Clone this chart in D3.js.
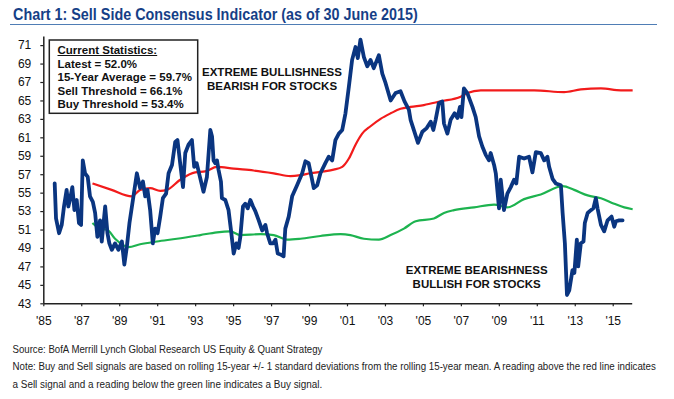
<!DOCTYPE html>
<html>
<head>
<meta charset="utf-8">
<script src="https://cdn.jsdelivr.net/npm/d3@7"></script>
<style>
  html, body { margin: 0; padding: 0; background: #fff; }
  svg { display: block; }
</style>
</head>
<body>
<div id="chart"></div>
<script>
var consensusYears = [1985.60,1985.67,1985.83,1985.97,1986.09,1986.23,1986.32,1986.41,1986.53,1986.64,1986.76,1986.88,1986.99,
  1987.08,1987.20,1987.34,1987.46,1987.61,1987.73,1987.85,1987.99,1988.08,1988.26,1988.38,1988.48,1988.61,1988.78,1988.96,
  1989.14,1989.27,1989.40,1989.54,1989.75,1989.93,1990.10,1990.25,1990.37,1990.49,1990.63,1990.77,1990.89,1991.02,1991.16,
  1991.30,1991.47,1991.60,1991.78,1991.95,1992.07,1992.21,1992.36,1992.48,1992.65,1992.83,1992.95,1993.08,1993.23,1993.44,
  1993.62,1993.80,1993.89,1993.97,1994.06,1994.15,1994.23,1994.36,1994.41,1994.59,1994.76,1994.89,1995.03,1995.17,1995.29,
  1995.38,1995.52,1995.64,1995.77,1995.91,1996.05,1996.17,1996.35,1996.53,1996.70,1996.79,1996.96,1997.11,1997.23,1997.35,
  1997.49,1997.66,1997.75,1997.93,1998.11,1998.37,1998.64,1998.81,1998.98,1999.13,1999.25,1999.43,1999.60,1999.86,2000.04,
  2000.22,2000.39,2000.57,2000.75,2000.92,2001.10,2001.27,2001.45,2001.57,2001.71,2001.89,2002.07,2002.24,2002.41,2002.68,
  2002.86,2003.03,2003.30,2003.56,2003.82,2004.03,2004.26,2004.35,2004.52,2004.74,2004.97,2005.20,2005.41,2005.55,2005.67,
  2005.84,2006.02,2006.11,2006.29,2006.46,2006.67,2006.82,2006.95,2007.03,2007.16,2007.34,2007.61,2007.78,2007.96,2008.13,
  2008.31,2008.48,2008.57,2008.75,2008.84,2009.01,2009.10,2009.27,2009.45,2009.63,2009.80,2009.92,2010.07,2010.33,2010.59,
  2010.77,2010.95,2011.21,2011.39,2011.56,2011.65,2011.83,2012.00,2012.27,2012.36,2012.48,2012.59,2012.71,2012.88,2012.98,
  2013.11,2013.18,2013.32,2013.46,2013.53,2013.68,2013.85,2013.98,2014.11,2014.20,2014.38,2014.55,2014.73,2014.94,2015.08,
  2015.17,2015.34,2015.52];
var consensusValues = [56.0,52.2,50.6,51.5,53.5,55.3,53.5,54.3,55.6,53.1,54.2,51.7,51.5,
  58.5,57.1,56.7,54.6,54.0,52.8,50.2,52.0,49.7,53.5,50.6,49.5,48.8,49.5,48.8,
  49.7,47.2,49.1,51.7,54.6,57.1,55.5,56.2,54.6,55.3,53.1,49.5,51.1,50.6,52.4,
  54.4,54.9,57.1,58.0,60.5,60.7,58.2,55.6,59.3,60.2,60.7,57.8,58.2,56.9,55.1,
  56.7,61.8,61.1,58.5,58.2,58.5,57.5,56.2,54.4,54.2,53.1,50.9,48.4,49.5,49.0,
  50.2,53.5,53.8,53.3,54.2,53.5,53.0,52.0,50.9,51.5,50.6,49.5,49.5,49.9,48.4,
  48.3,48.1,51.1,52.4,54.6,55.8,57.1,58.4,58.2,56.7,55.5,55.8,57.1,58.2,58.9,
  58.5,60.7,61.4,61.8,63.6,66.5,69.4,70.8,69.6,71.6,69.7,68.7,69.4,68.5,69.9,
  67.9,66.9,65.0,65.8,66.0,64.9,64.0,62.9,61.8,60.4,61.6,62.0,62.7,61.8,62.9,
  64.7,64.9,62.5,61.4,62.9,63.6,63.1,64.3,63.2,66.3,65.8,64.3,63.2,61.1,60.0,
  59.1,58.5,59.3,58.0,57.1,53.3,56.4,53.1,54.9,55.6,56.4,56.0,58.9,58.7,58.9,
  57.2,59.4,59.3,58.5,58.9,57.8,56.5,56.0,55.8,52.8,49.5,43.9,44.4,46.6,46.3,
  49.9,47.0,49.5,49.7,51.7,52.8,53.1,53.3,54.4,53.3,51.5,50.8,52.0,52.4,51.3,
  51.9,52.0,52.0];

// Sell threshold (red)
var sellYears = [1987.59,1988.60,1989.66,1990.10,1990.63,1991.16,1991.51,1992.21,1993.00,1993.53,1994.15,1995.03,1996.08,
  1997.14,1998.02,1998.55,1999.07,1999.78,2000.30,2000.75,2001.10,2001.45,2001.80,2002.24,2002.77,2003.30,2003.82,2004.35,
  2005.05,2005.93,2006.99,2007.34,2008.05,2009.10,2010.86,2012.44,2013.32,2014.38,2015.43,2016.05];
var sellValues = [56.0,55.3,54.6,55.3,55.5,55.2,55.3,56.4,57.2,57.3,57.8,57.6,57.4,
  57.1,56.8,56.9,57.1,57.3,57.5,57.8,58.7,60.2,61.4,62.2,63.0,63.6,64.1,64.3,
  64.5,64.9,65.4,65.8,66.1,66.1,66.1,65.9,66.2,66.3,66.1,66.1];

// Buy threshold (green)
var buyYears = [1987.59,1987.99,1988.35,1988.78,1989.49,1990.10,1990.98,1992.04,1993.27,1994.15,1994.85,1995.38,1996.44,
  1997.14,1997.84,1998.55,1999.60,2000.66,2001.18,2001.89,2002.68,2003.30,2004.00,2004.62,2005.58,2006.11,2006.64,2007.69,
  2008.75,2009.45,2010.33,2011.21,2012.36,2012.97,2013.68,2014.38,2015.08,2015.61,2016.05];
var buyValues = [51.7,51.1,51.0,50.0,49.1,49.4,49.7,50.0,50.4,50.7,50.8,50.4,50.5,
  50.4,49.9,50.0,50.3,50.5,50.4,50.0,49.9,50.4,51.1,51.9,52.2,52.8,53.1,53.4,
  53.7,53.4,54.3,54.8,55.7,55.3,54.7,54.4,53.8,53.4,53.2];

var yTicks = [43,45,47,49,51,53,55,57,59,61,63,65,67,69,71];
var xTickYears = [1985,1987,1989,1991,1993,1995,1997,1999,2001,2003,2005,2007,2009,2011,2013,2015];
var xTickLabels = ["'85","'87","'89","'91","'93","'95","'97","'99","'01","'03","'05","'07","'09","'11","'13","'15"];

var statLines = ["Current Statistics:","Latest = 52.0%","15-Year Average = 59.7%","Sell Threshold = 66.1%","Buy Threshold = 53.4%"];
var footLines = ["Source: BofA Merrill Lynch Global Research US Equity & Quant Strategy",
  "Note: Buy and Sell signals are based on rolling 15-year +/- 1 standard deviations from the rolling 15-year mean. A reading above the red line indicates",
  "a Sell signal and a reading below the green line indicates a Buy signal."];

var W = 674, H = 399;
var sans = "'Liberation Sans', Arial, sans-serif";
var narrow = "'Liberation Sans Narrow', 'Arial Narrow', 'Liberation Sans', sans-serif";

var svg = d3.select("#chart").append("svg")
  .attr("width", W)
  .attr("height", H);
svg.append("rect").attr("width", W).attr("height", H).attr("fill", "#fff");

// the narrow face is not installed, so squeeze a text horizontally to the reference width
function squeeze(sel, x0, y0, target){
  var w = sel.node().getComputedTextLength();
  var k = Math.min(1, target / w);
  sel.attr("x", 0).attr("y", 0)
    .attr("transform", "translate(" + x0 + "," + y0 + ") scale(" + k + ",1)");
}

//title
var title = svg.append("text")
  .text("Chart 1: Sell Side Consensus Indicator (as of 30 June 2015)")
  .attr("fill", "#163f87")
  .style("font-family", narrow)
  .style("font-weight", "bold")
  .style("font-size", "16.5px");
squeeze(title, 13, 20, 405);
svg.append("line")
  .attr("x1", 10).attr("x2", 657)
  .attr("y1", 24.5).attr("y2", 24.5)
  .attr("stroke", "#4f7db5")
  .attr("stroke-width", 1);

//scales
var x = d3.scaleLinear().domain([1985, 2016]).range([43.3, 631.7]);
var y = d3.scaleLinear().domain([43, 72]).range([303.3, 35.9]);

//axes
var yAxis = svg.append("g")
  .attr("transform", "translate(43.3,0)")
  .call(d3.axisLeft(y).tickValues(yTicks).tickSize(3).tickSizeOuter(0).tickFormat(function(d){ return d; }));
var xAxis = svg.append("g")
  .attr("transform", "translate(0,303.3)")
  .call(d3.axisBottom(x).tickValues(xTickYears).tickSize(3).tickSizeOuter(0)
    .tickFormat(function(d, i){ return xTickLabels[i]; }));
[yAxis, xAxis].forEach(function(a){
  a.select(".domain").attr("stroke", "#222").attr("stroke-width", 1.5);
  a.selectAll(".tick line").attr("stroke", "#222").attr("stroke-width", 1.2);
  a.selectAll("text")
    .attr("fill", "#111")
    .style("font-family", sans)
    .style("font-size", "12px");
});
yAxis.selectAll("text").attr("x", -12);
xAxis.selectAll("text").attr("y", 13);

//lines
function series(xs, vs){
  return xs.map(function(d, i){ return [d, vs[i]]; });
}
var smooth = d3.line()
  .x(function(d){ return x(d[0]); })
  .y(function(d){ return y(d[1]); })
  .curve(d3.curveMonotoneX);
var jagged = d3.line()
  .x(function(d){ return x(d[0]); })
  .y(function(d){ return y(d[1]); });

svg.append("path")
  .attr("d", smooth(series(buyYears, buyValues)))
  .attr("fill", "none")
  .attr("stroke", "#1db34f")
  .attr("stroke-width", 2.2);
svg.append("path")
  .attr("d", smooth(series(sellYears, sellValues)))
  .attr("fill", "none")
  .attr("stroke", "#f21b1b")
  .attr("stroke-width", 2.2);
svg.append("path")
  .attr("d", jagged(series(consensusYears, consensusValues)))
  .attr("fill", "none")
  .attr("stroke", "#0a3580")
  .attr("stroke-width", 3.8)
  .attr("stroke-linejoin", "round")
  .attr("stroke-linecap", "round");

//stats box
svg.append("rect")
  .attr("x", 49.3).attr("y", 40)
  .attr("width", 148.4).attr("height", 73.3)
  .attr("fill", "#fff")
  .attr("stroke", "#222")
  .attr("stroke-width", 1.5);
var statBase = [53.5, 67.8, 81.2, 94.6, 108];
statLines.forEach(function(t, i){
  var tx = svg.append("text")
    .text(t)
    .attr("x", 57.5)
    .attr("y", statBase[i])
    .attr("fill", "#111")
    .style("font-family", sans)
    .style("font-weight", "bold")
    .style("font-size", "11.5px");
  if(i == 0){
    var len = tx.node().getComputedTextLength();
    svg.append("line")
      .attr("x1", 57.5).attr("x2", 57.5 + len)
      .attr("y1", 55.5).attr("y2", 55.5)
      .attr("stroke", "#111")
      .attr("stroke-width", 1);
  }
});

//annotations
var notes = [
  {t: "EXTREME BULLISHNESS", x: 272, y: 76},
  {t: "BEARISH FOR STOCKS", x: 272, y: 89.5},
  {t: "EXTREME BEARISHNESS", x: 476.7, y: 274},
  {t: "BULLISH FOR STOCKS", x: 476.7, y: 287.5}
];
notes.forEach(function(n){
  svg.append("text")
    .text(n.t)
    .attr("x", n.x)
    .attr("y", n.y)
    .attr("text-anchor", "middle")
    .attr("fill", "#111")
    .style("font-family", sans)
    .style("font-weight", "bold")
    .style("font-size", "11.5px");
});

//footer
var footWidths = [310, 644, 310];
footLines.forEach(function(t, i){
  var ft = svg.append("text")
    .text(t)
    .attr("fill", "#222")
    .style("font-family", narrow)
    .style("font-size", "11.5px");
  squeeze(ft, 12.5, 352.5 + i * 17.5, footWidths[i]);
});
</script>
</body>
</html>
